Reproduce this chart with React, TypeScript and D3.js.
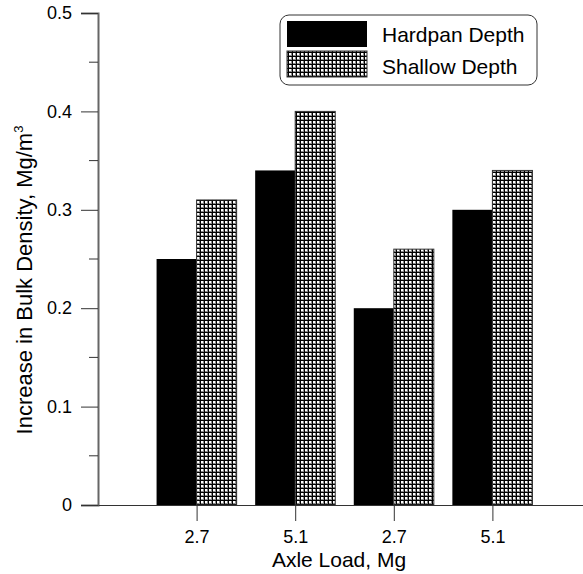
import React, { useEffect, useRef } from 'react'
import * as d3 from 'd3'

// chart data
const categories = ['2.7', '5.1', '2.7', '5.1']
const hardpan = [0.25, 0.34, 0.2, 0.3]
const shallow = [0.31, 0.4, 0.26, 0.34]
const yTicks = [0, 0.1, 0.2, 0.3, 0.4, 0.5]
const seriesNames = ['Hardpan Depth', 'Shallow Depth']

const App = () => {
  const svgRef = useRef<SVGSVGElement>(null)

  useEffect(() => {
    const W = 583
    const H = 574
    const left = 98
    const bottom = 505
    const top = 13

    const svg = d3.select(svgRef.current).attr('width', W).attr('height', H)
    svg.selectAll('*').remove()

    const font = 'Liberation Sans, Arial, Helvetica, sans-serif'

    // dotted pattern for the shallow series
    const defs = svg.append('defs')
    const pat = defs
      .append('pattern')
      .attr('id', 'dots')
      .attr('patternUnits', 'userSpaceOnUse')
      .attr('width', 4)
      .attr('height', 4)
    pat.append('rect').attr('width', 4).attr('height', 4).attr('fill', '#8a8a8a')
    pat.append('rect').attr('x', 0).attr('y', 0).attr('width', 4).attr('height', 1).attr('fill', '#000')
    pat.append('rect').attr('x', 0).attr('y', 0).attr('width', 1).attr('height', 4).attr('fill', '#000')
    pat.append('rect').attr('x', 1).attr('y', 1).attr('width', 2).attr('height', 2).attr('fill', '#fff')

    // scales
    const x = d3.scaleLinear().domain([0, categories.length + 1]).range([left, left + 98.6 * (categories.length + 1)])
    const y = d3.scaleLinear().domain([0, 0.5]).range([bottom, top])
    const barW = x(0.406) - x(0)

    // bars
    const g = svg.append('g')
    g.selectAll('.hard')
      .data(hardpan)
      .enter()
      .append('rect')
      .attr('x', (d, i) => x(i + 1) - barW)
      .attr('y', (d) => y(d))
      .attr('width', barW)
      .attr('height', (d) => bottom - y(d))
      .attr('fill', '#000')

    g.selectAll('.shal')
      .data(shallow)
      .enter()
      .append('rect')
      .attr('x', (d, i) => x(i + 1))
      .attr('y', (d) => y(d))
      .attr('width', barW)
      .attr('height', (d) => bottom - y(d))
      .attr('fill', 'url(#dots)')
      .attr('stroke', '#333')
      .attr('stroke-width', 1)

    // y axis
    const yAxis = svg
      .append('g')
      .attr('transform', `translate(${left},0)`)
      .call(
        d3
          .axisLeft(y)
          .tickValues(yTicks)
          .tickSize(17)
          .tickPadding(9)
          .tickFormat((d) => (d === 0 ? '0' : d3.format('.1f')(d as number)))
      )
    yAxis.select('.domain').attr('stroke', '#666').attr('stroke-width', 2)
    yAxis.selectAll('.tick line').attr('stroke', '#333')
    yAxis.selectAll('text').style('font-family', font).style('font-size', '18px').attr('fill', '#000')

    // minor y ticks
    svg
      .append('g')
      .selectAll('line')
      .data(d3.range(0.05, 0.5, 0.1))
      .enter()
      .append('line')
      .attr('x1', left - 9)
      .attr('x2', left)
      .attr('y1', (d) => y(d))
      .attr('y2', (d) => y(d))
      .attr('stroke', '#333')

    // x axis
    const xAxis = svg
      .append('g')
      .attr('transform', `translate(0,${bottom})`)
      .call(
        d3
          .axisBottom(x)
          .tickValues(categories.map((c, i) => i + 1))
          .tickSize(16)
          .tickSizeOuter(0)
          .tickPadding(9)
          .tickFormat((d) => categories[(d as number) - 1])
      )
    xAxis.select('.domain').attr('stroke', '#333')
    xAxis.selectAll('.tick line').attr('stroke', '#333')
    xAxis.selectAll('text').style('font-family', font).style('font-size', '18px').attr('fill', '#000')

    // axis labels
    svg
      .append('text')
      .text('Axle Load, Mg')
      .attr('x', 339)
      .attr('y', 567)
      .attr('text-anchor', 'middle')
      .style('font-family', font)
      .style('font-size', '21px')

    const yl = svg
      .append('text')
      .attr('transform', `translate(32,280) rotate(-90)`)
      .attr('text-anchor', 'middle')
      .style('font-family', font)
      .style('font-size', '22px')
    yl.append('tspan').text('Increase in Bulk Density, Mg/m')
    yl.append('tspan').text('3').attr('dy', -9).style('font-size', '13px')

    // legend
    const leg = svg.append('g')
    leg
      .append('rect')
      .attr('x', 280)
      .attr('y', 15)
      .attr('width', 257)
      .attr('height', 70)
      .attr('rx', 9)
      .attr('fill', '#fff')
      .attr('stroke', '#333')
      .attr('stroke-width', 1)
    const fills = ['#000', 'url(#dots)']
    seriesNames.forEach((name, i) => {
      leg
        .append('rect')
        .attr('x', 287)
        .attr('y', 21 + i * 30)
        .attr('width', 80)
        .attr('height', 26)
        .attr('fill', fills[i])
        .attr('stroke', i === 1 ? '#333' : 'none')
      leg
        .append('text')
        .text(name)
        .attr('x', 382)
        .attr('y', 42 + i * 32)
        .style('font-family', font)
        .style('font-size', '21px')
    })
  }, [])

  return <svg ref={svgRef} style={{ position: 'absolute', left: 0, top: 0 }}></svg>
}

export default App
